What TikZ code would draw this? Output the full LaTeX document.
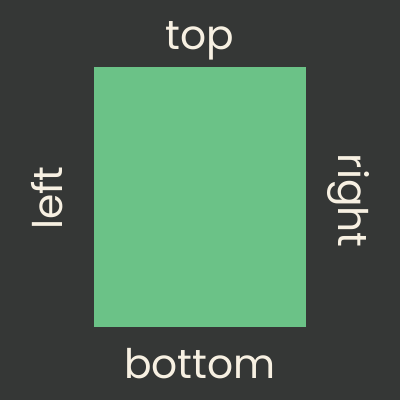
\documentclass[tikz,border=0pt]{standalone}
\usepackage{fontspec}
\setmainfont{Poppins}
\usepackage{xcolor}
\definecolor{BgGray}{RGB}{53,55,54}
\definecolor{BoxGreen}{RGB}{107,194,135}
\definecolor{LabelCream}{RGB}{247,240,226}
\usetikzlibrary{positioning}
\tikzset{
  % side labels
  sidelabel/.style={
    text=LabelCream, font=\fontsize{29}{34}\selectfont,
    inner sep=0pt, anchor=center
  },
  % green box
  greenbox/.style={
    rectangle, fill=BoxGreen, draw=none,
    minimum width=5.3cm, minimum height=6.5cm, inner sep=0pt
  },
}
\begin{document}
\begin{tikzpicture}
  %% Background
  \fill[BgGray] (0,0) rectangle (10,10);
  \useasboundingbox (0,0) rectangle (10,10);

  %% Box
  \node[greenbox] (box) at (5,5.075) {};

  %% Labels
  \node[sidelabel] (top) at (5,8.98) {top};
  \node[sidelabel] (bottom) at (5,0.92) {bottom};
  \node[sidelabel, rotate=90] (left) at (1.17,5.05) {left};
  \node[sidelabel, rotate=-90] (right) at (8.72,4.98) {right};
\end{tikzpicture}
\end{document}
